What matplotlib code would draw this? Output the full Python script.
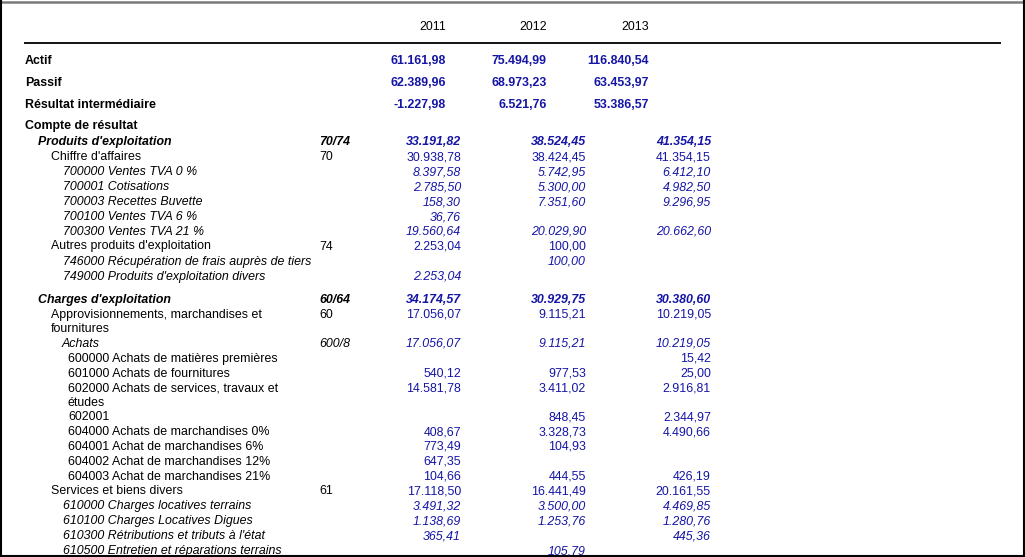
import matplotlib
matplotlib.use("Agg")
import matplotlib.pyplot as plt

# ---------------- data ----------------
years = ["2011", "2012", "2013"]

labels = [
    "Actif", "Passif", "Résultat intermédiaire", "Compte de résultat",
    "Produits d'exploitation", "Chiffre d'affaires",
    "700000 Ventes TVA 0 %", "700001 Cotisations", "700003 Recettes Buvette",
    "700100 Ventes TVA 6 %", "700300 Ventes TVA 21 %",
    "Autres produits d'exploitation",
    "746000 Récupération de frais auprès de tiers",
    "749000 Produits d'exploitation divers",
    "Charges d'exploitation",
    "Approvisionnements, marchandises et\nfournitures",
    "Achats",
    "600000 Achats de matières premières",
    "601000 Achats de fournitures",
    "602000 Achats de services, travaux et\nétudes",
    "602001",
    "604000 Achats de marchandises 0%",
    "604001 Achat de marchandises 6%",
    "604002 Achat de marchandises 12%",
    "604003 Achat de marchandises 21%",
    "Services et biens divers",
    "610000 Charges locatives terrains",
    "610100 Charges Locatives Digues",
    "610300 Rétributions et tributs à l'état",
    "610500 Entretien et réparations terrains",
]

codes = [
    "", "", "", "",
    "70/74", "70", "", "", "", "", "", "74", "", "",
    "60/64", "60", "600/8", "", "", "", "", "", "", "", "", "61",
    "", "", "", "",
]

values_2011 = [
    "61.161,98", "62.389,96", "-1.227,98", "",
    "33.191,82", "30.938,78", "8.397,58", "2.785,50", "158,30", "36,76",
    "19.560,64", "2.253,04", "", "2.253,04",
    "34.174,57", "17.056,07", "17.056,07", "", "540,12", "14.581,78", "",
    "408,67", "773,49", "647,35", "104,66", "17.118,50",
    "3.491,32", "1.138,69", "365,41", "",
]
values_2012 = [
    "75.494,99", "68.973,23", "6.521,76", "",
    "38.524,45", "38.424,45", "5.742,95", "5.300,00", "7.351,60", "",
    "20.029,90", "100,00", "100,00", "",
    "30.929,75", "9.115,21", "9.115,21", "", "977,53", "3.411,02", "848,45",
    "3.328,73", "104,93", "", "444,55", "16.441,49",
    "3.500,00", "1.253,76", "", "105,79",
]
values_2013 = [
    "116.840,54", "63.453,97", "53.386,57", "",
    "41.354,15", "41.354,15", "6.412,10", "4.982,50", "9.296,95", "",
    "20.662,60", "", "", "",
    "30.380,60", "10.219,05", "10.219,05", "15,42", "25,00", "2.916,81", "2.344,97",
    "4.490,66", "", "", "426,19", "20.161,55",
    "4.469,85", "1.280,76", "445,36", "",
]

# ---------------- layout / styles ----------------
row_y = [60, 82, 103.5, 124.5,
         141, 156, 171, 186, 200.8, 215.7, 230.3, 245.2, 260.5, 275.5,
         299, 313.5, 342.5, 357.3, 372.5, 387.3, 416, 430.8, 445.5, 460.5,
         475.2, 490, 505, 520, 535, 550]
row_style = (["B"] * 4 +
             ["BI", "R", "I", "I", "I", "I", "I", "R", "I", "I"] +
             ["BI", "R", "I", "R", "R", "R", "R", "R", "R", "R", "R", "R",
              "I", "I", "I", "I"])
row_x = ([25] * 4 +
         [38, 51, 63, 63, 63, 63, 63, 51, 63, 63] +
         [38, 51, 62, 68, 68, 68, 68, 68, 68, 68, 68, 51, 63, 63, 63, 63])
line_step = 14.5
code_x = 319
top_val_x = [446, 547, 649]
det_val_x = [461, 586, 711]
header_y = 26

FONT = "Liberation Sans"
FS = 8.9
BLUE = "#1515a5"
BASE = 4.3  # offset from visual centre to baseline (px)

style_map = {
    "B": dict(fontweight="bold", fontstyle="normal"),
    "BI": dict(fontweight="bold", fontstyle="italic"),
    "R": dict(fontweight="normal", fontstyle="normal"),
    "I": dict(fontweight="normal", fontstyle="italic"),
}

fig = plt.figure(figsize=(10.25, 5.57), dpi=100)
ax = fig.add_axes([0, 0, 1, 1])
ax.set_xlim(0, 1025)
ax.set_ylim(557, 0)
ax.axis("off")

# borders
ax.plot([0, 1025], [2, 2], color="#7a7a7a", lw=1.8, solid_capstyle="butt")
ax.plot([1, 1], [0, 557], color="black", lw=1.5)
ax.plot([1023.5, 1023.5], [0, 557], color="black", lw=1.5)
ax.plot([0, 1025], [555.5, 555.5], color="black", lw=1.5)

# header
for yr, x in zip(years, top_val_x):
    ax.text(x, header_y + BASE, yr, ha="right", va="baseline",
            family=FONT, fontsize=FS, color="black")
ax.plot([24, 1001], [42.5, 42.5], color="black", lw=1.3, solid_capstyle="butt")

# rows
for i, lab in enumerate(labels):
    st = style_map[row_style[i]]
    y = row_y[i]
    for k, part in enumerate(lab.split("\n")):
        ax.text(row_x[i], y + BASE + k * line_step, part, ha="left",
                va="baseline", family=FONT, fontsize=FS, color="black", **st)
    if codes[i]:
        ax.text(code_x, y + BASE, codes[i], ha="left", va="baseline",
                family=FONT, fontsize=FS, color="black", **st)
    xs = top_val_x if i < 4 else det_val_x
    for vals, x in zip((values_2011, values_2012, values_2013), xs):
        v = vals[i]
        if v:
            ax.text(x, y + BASE, v, ha="right", va="baseline",
                    family=FONT, fontsize=FS, color=BLUE, **st)

fig.savefig("out.png", dpi=100)
